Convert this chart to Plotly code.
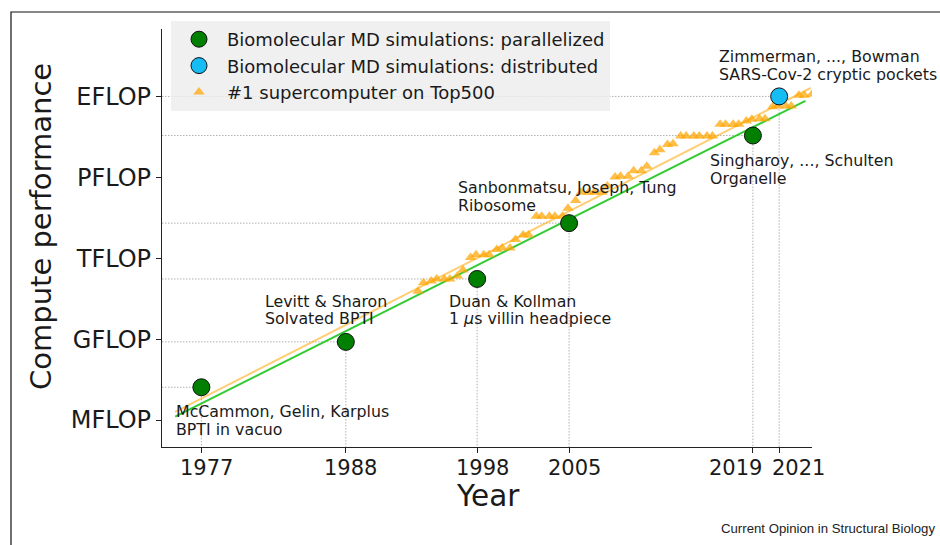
import plotly.graph_objects as go

# ---------------- data ----------------
# Biomolecular MD simulations (parallelized)
md_years = [1977, 1988, 1998, 2005, 2019]
md_flops = [1.64e7, 7.9e8, 1.7e11, 2.0e13, 3.55e16]
# Biomolecular MD simulations (distributed)
dist_years = [2021]
dist_flops = [1.0e18]

# labels for each simulation (two lines)
sim_line1 = ["McCammon, Gelin, Karplus", "Levitt & Sharon", "Duan & Kollman",
             "Sanbonmatsu, Joseph, Tung", "Singharoy, ..., Schulten", "Zimmerman, ..., Bowman"]
sim_line2 = ["BPTI in vacuo", "Solvated BPTI", "1 <i>μ</i>s villin headpiece",
             "Ribosome", "Organelle", "SARS-Cov-2 cryptic pockets"]

# #1 supercomputer on Top500 (list date, Rmax in GFLOPS)
top500_dates = ["1993-06", "1993-11", "1994-06", "1994-11", "1995-06", "1995-11",
                "1996-06", "1996-11", "1997-06", "1997-11", "1998-06", "1998-11",
                "1999-06", "1999-11", "2000-06", "2000-11", "2001-06", "2001-11",
                "2002-06", "2002-11", "2003-06", "2003-11", "2004-06", "2004-11",
                "2005-06", "2005-11", "2006-06", "2006-11", "2007-06", "2007-11",
                "2008-06", "2008-11", "2009-06", "2009-11", "2010-06", "2010-11",
                "2011-06", "2011-11", "2012-06", "2012-11", "2013-06", "2013-11",
                "2014-06", "2014-11", "2015-06", "2015-11", "2016-06", "2016-11",
                "2017-06", "2017-11", "2018-06", "2018-11", "2019-06", "2019-11",
                "2020-06", "2020-11", "2021-06", "2021-11", "2022-06", "2022-11",
                "2023-06"]
top500_gflops = [59.7, 124.0, 143.4, 170.0, 170.0, 170.0,
                 220.4, 368.2, 1068, 1338, 1338, 1338,
                 2121, 2379, 2379, 4938, 7226, 7226,
                 35860, 35860, 35860, 35860, 35860, 70720,
                 136800, 280600, 280600, 280600, 280600, 478200,
                 1026000, 1105000, 1105000, 1759000, 1759000, 2566000,
                 8162000, 10510000, 16324750, 17590000, 33862700, 33862700,
                 33862700, 33862700, 33862700, 33862700, 93014600, 93014600,
                 93014600, 93014600, 122300000, 143500000, 148600000, 148600000,
                 415530000, 442010000, 442010000, 442010000, 1102000000, 1102000000,
                 1194000000]

# trend lines
md_trend_years = [1975, 2023]
md_trend_flops = [1.35e6, 6.8e17]
top_trend_years = [1975, 2023.4]
top_trend_flops = [2.0e6, 2.05e18]

# axis ticks
tick_years = [1977, 1988, 1998, 2005, 2019, 2021]
perf_vals = [1e6, 1e9, 1e12, 1e15, 1e18]
perf_text = ["MFLOP", "GFLOP", "TFLOP", "PFLOP", "EFLOP"]

# ---------------- derived ----------------
top500_x = [int(d[:4]) + int(d[5:]) / 12 for d in top500_dates]
top500_flops = [g * 1e9 for g in top500_gflops]

X_MIN, X_MAX = 1974.0, 2023.5
Y_LOG_MIN, Y_LOG_MAX = 5.0, 20.5

FONT = "DejaVu Sans"
TXT = "#1a1a1a"

fig = go.Figure()

# dotted guide lines from each simulation point to the axes
gx, gy = [], []
for yr, v in zip(md_years + dist_years, md_flops + dist_flops):
    gx += [X_MIN, yr, yr, None]
    gy += [v, v, 10 ** Y_LOG_MIN, None]
fig.add_trace(go.Scatter(x=gx, y=gy, mode="lines", showlegend=False, hoverinfo="skip",
                         line=dict(color="#b0b0b0", width=1, dash="1.5px,1.5px")))

# trend lines
fig.add_trace(go.Scatter(x=top_trend_years, y=top_trend_flops, mode="lines", showlegend=False,
                         line=dict(color="rgba(255,165,0,0.55)", width=2)))
fig.add_trace(go.Scatter(x=md_trend_years, y=md_trend_flops, mode="lines", showlegend=False,
                         line=dict(color="#33cc33", width=2)))

# Top500
fig.add_trace(go.Scatter(x=top500_x, y=top500_flops, mode="markers",
                         name="#1 supercomputer on Top500", legendrank=3,
                         marker=dict(symbol="triangle-up", size=10,
                                     color="rgba(255,165,0,0.72)", line=dict(width=0))))
# MD points
fig.add_trace(go.Scatter(x=md_years, y=md_flops, mode="markers",
                         name="Biomolecular MD simulations: parallelized", legendrank=1,
                         marker=dict(symbol="circle", size=17, color="#007f00",
                                     line=dict(color="#111111", width=1))))
fig.add_trace(go.Scatter(x=dist_years, y=dist_flops, mode="markers",
                         name="Biomolecular MD simulations: distributed", legendrank=2,
                         marker=dict(symbol="circle", size=17, color="#16bdf5",
                                     line=dict(color="#111111", width=1))))

annotations = []
# simulation labels (first-line anchor positions in data coords)
label_years = [1974.9, 1981.72, 1995.67, 1996.39, 2015.56, 2016.29]
label_logs = [6.30, 10.40, 10.40, 14.61, 15.61, 19.48]
for l1, l2, lx, ly in zip(sim_line1, sim_line2, label_years, label_logs):
    for k, t in enumerate([l1, l2]):
        annotations.append(dict(x=lx, y=ly, xref="x", yref="y", text=t, showarrow=False,
                                xanchor="left", yanchor="middle", yshift=-17.5 * k,
                                font=dict(family=FONT, size=15.8, color=TXT)))

# x tick labels
tick_shift = [5, 5, 5, 5, -17, 19]
for yr, sh in zip(tick_years, tick_shift):
    annotations.append(dict(x=yr, y=-0.05, xref="x", yref="paper", text=str(yr),
                            showarrow=False, xanchor="center", yanchor="middle", xshift=sh,
                            font=dict(family=FONT, size=21, color=TXT)))

# axis titles
annotations.append(dict(x=(488 - 162) / 650, y=(447 - 496) / 418, xref="paper", yref="paper",
                        text="Year", showarrow=False, xanchor="center", yanchor="middle",
                        font=dict(family=FONT, size=29.5, color=TXT)))
annotations.append(dict(x=(41 - 162) / 650, y=(447 - 227) / 418, xref="paper", yref="paper",
                        text="Compute performance", showarrow=False, textangle=-90,
                        xanchor="center", yanchor="middle",
                        font=dict(family=FONT, size=29, color=TXT)))
# credit
annotations.append(dict(x=(937 - 162) / 650, y=(447 - 528) / 418, xref="paper", yref="paper",
                        text="Current Opinion in Structural Biology", showarrow=False,
                        xanchor="right", yanchor="middle",
                        font=dict(family="Liberation Sans", size=13.2, color="#222222")))

shapes = [dict(type="rect", xref="paper", yref="paper",
               x0=(11 - 162) / 650, x1=(960 - 162) / 650,
               y0=(447 - 580) / 418, y1=(447 - 12) / 418,
               line=dict(color="#111111", width=1.2), fillcolor="rgba(0,0,0,0)", layer="below")]

fig.update_layout(
    width=940, height=545,
    margin=dict(l=162, r=128, t=29, b=98),
    paper_bgcolor="white", plot_bgcolor="white",
    font=dict(family=FONT, color=TXT),
    showlegend=True,
    legend=dict(x=(171 - 162) / 650, y=(447 - 21) / 418, xanchor="left", yanchor="top",
                bgcolor="rgba(236,236,236,0.8)", borderwidth=0,
                font=dict(family=FONT, size=18, color=TXT),
                itemwidth=46, tracegroupgap=0, traceorder="normal"),
    annotations=annotations,
    shapes=shapes,
    xaxis=dict(range=[X_MIN, X_MAX], showgrid=False, zeroline=False,
               showline=True, linecolor="#222222", linewidth=1.2,
               tickvals=tick_years, showticklabels=False,
               ticks="outside", ticklen=5, tickcolor="#222222"),
    yaxis=dict(type="log", range=[Y_LOG_MIN, Y_LOG_MAX], showgrid=False, zeroline=False,
               showline=True, linecolor="#222222", linewidth=1.2,
               tickvals=perf_vals, ticktext=perf_text, ticks="outside", ticklen=5,
               tickcolor="#222222", tickfont=dict(family=FONT, size=24, color=TXT)),
)

fig.write_html("out.html", post_script="document.body.style.margin='0px';",
               config={"displayModeBar": False})
